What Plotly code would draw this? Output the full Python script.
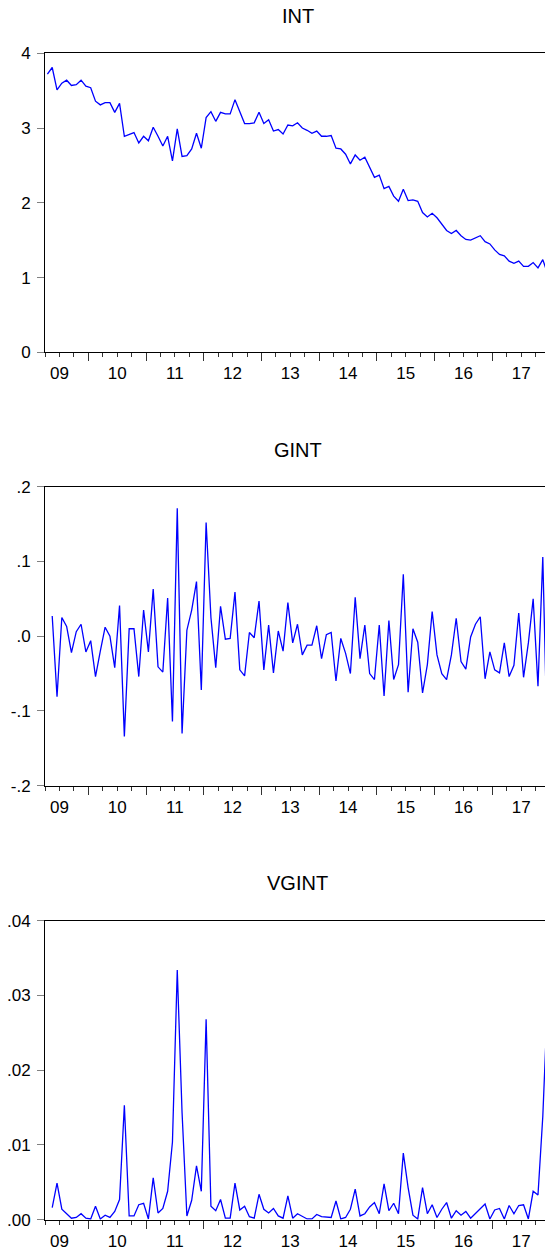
import pandas as pd
import plotly.graph_objects as go

# ---------------- data (monthly, INT from 2009M04) ----------------
START = "2009-04"
INT = [3.72, 3.81, 3.51, 3.60, 3.64, 3.57, 3.58, 3.64, 3.56, 3.54,
       3.36, 3.31, 3.34, 3.34, 3.21, 3.33, 2.89, 2.92, 2.94, 2.80,
       2.89, 2.83, 3.01, 2.89, 2.76, 2.89, 2.56, 2.99, 2.62, 2.63,
       2.72, 2.93, 2.73, 3.14, 3.22, 3.09, 3.21, 3.19, 3.19, 3.38,
       3.22, 3.06, 3.06, 3.07, 3.21, 3.06, 3.11, 2.96, 2.98, 2.92,
       3.04, 3.03, 3.07, 3.00, 2.97, 2.93, 2.96, 2.89, 2.89, 2.90,
       2.73, 2.72, 2.65, 2.52, 2.64, 2.57, 2.61, 2.48, 2.34, 2.37,
       2.19, 2.22, 2.09, 2.02, 2.18, 2.03, 2.04, 2.02, 1.87, 1.81,
       1.86, 1.80, 1.72, 1.63, 1.59, 1.63, 1.56, 1.51, 1.50, 1.53,
       1.56, 1.48, 1.45, 1.37, 1.31, 1.29, 1.22, 1.19, 1.22, 1.15,
       1.15, 1.20, 1.13, 1.24, 1.05]

# GINT and VGINT start one month later (2009M05)
GINT = [0.027, -0.081, 0.025, 0.013, -0.022, 0.006, 0.016, -0.021, -0.006, -0.054,
        -0.020, 0.012, 0.000, -0.042, 0.041, -0.134, 0.010, 0.010, -0.054, 0.035,
        -0.021, 0.063, -0.041, -0.048, 0.051, -0.114, 0.171, -0.130, 0.008, 0.035,
        0.073, -0.072, 0.152, 0.025, -0.042, 0.040, -0.004, -0.003, 0.059, -0.045,
        -0.053, 0.005, -0.002, 0.047, -0.045, 0.015, -0.049, 0.007, -0.020, 0.045,
        -0.009, 0.016, -0.025, -0.012, -0.012, 0.014, -0.030, 0.002, 0.005, -0.060,
        -0.003, -0.023, -0.050, 0.052, -0.030, 0.015, -0.050, -0.058, 0.015, -0.080,
        0.021, -0.058, -0.038, 0.083, -0.075, 0.010, -0.008, -0.076, -0.038, 0.033,
        -0.025, -0.050, -0.058, -0.025, 0.024, -0.034, -0.044, -0.001, 0.016, 0.026,
        -0.057, -0.021, -0.045, -0.049, -0.009, -0.054, -0.039, 0.031, -0.055, -0.009,
        0.050, -0.067, 0.106, -0.165]

VGINT = [0.0016, 0.0049, 0.0014, 0.0008, 0.0002, 0.0003, 0.0008, 0.0002, 0.0001, 0.0018,
         0.0001, 0.0006, 0.0003, 0.0011, 0.0027, 0.0153, 0.0005, 0.0005, 0.0020, 0.0022,
         0.0001, 0.0056, 0.0009, 0.0015, 0.0038, 0.0104, 0.0334, 0.0143, 0.0005, 0.0026,
         0.0072, 0.0038, 0.0268, 0.0018, 0.0012, 0.0027, 0.0002, 0.0002, 0.0049, 0.0013,
         0.0018, 0.0004, 0.0002, 0.0034, 0.0014, 0.0009, 0.0015, 0.0005, 0.0002, 0.0032,
         0.0002, 0.0008, 0.0004, 0.0001, 0.0001, 0.0007, 0.0004, 0.0003, 0.0003, 0.0025,
         0.0001, 0.0003, 0.0014, 0.0041, 0.0005, 0.0008, 0.0017, 0.0023, 0.0008, 0.0048,
         0.0012, 0.0022, 0.0008, 0.0089, 0.0043, 0.0006, 0.0001, 0.0043, 0.0008, 0.0020,
         0.0003, 0.0014, 0.0023, 0.0002, 0.0012, 0.0006, 0.0011, 0.0002, 0.0008, 0.0015,
         0.0021, 0.0001, 0.0013, 0.0015, 0.0001, 0.0019, 0.0008, 0.0019, 0.0020, 0.0001,
         0.0038, 0.0033, 0.0138, 0.0295]

TITLES = ["INT", "GINT", "VGINT"]
YEAR_LABELS = ["09", "10", "11", "12", "13", "14", "15", "16", "17"]
YTICKS = [
    ([0, 1, 2, 3, 4], ["0", "1", "2", "3", "4"], [0, 4]),
    ([-0.2, -0.1, 0.0, 0.1, 0.2], ["-.2", "-.1", ".0", ".1", ".2"], [-0.2, 0.2]),
    ([0.0, 0.01, 0.02, 0.03, 0.04], [".00", ".01", ".02", ".03", ".04"], [0.0, 0.04]),
]


def month_positions(start, n):
    per = pd.period_range(start, periods=n, freq="M")
    return [p.year + (p.month - 1) / 12 + 1 / 24 for p in per]


x_int = month_positions(START, len(INT))
x_g = month_positions("2009-05", len(GINT))
series = [(x_int, INT), (x_g, GINT), (x_g, VGINT)]

# ---------------- layout geometry ----------------
W, H = 545, 1251
L = 45
PX_PER_YEAR = 505 / 8.75
X0 = 2009.25
X1 = X0 + (W - L) / PX_PER_YEAR
panel_px = [(53.3, 352.3), (486.7, 785.7), (920.7, 1219.7)]
title_px = [16, 449.5, 883]

FONT = "Arial, Liberation Sans, sans-serif"
TICKSIZE = 17
fig = go.Figure()
layout = dict(
    width=W, height=H,
    margin=dict(l=L, r=0, t=0, b=0),
    paper_bgcolor="white", plot_bgcolor="white",
    showlegend=False,
    font=dict(family=FONT, size=TICKSIZE, color="black"),
)

years = list(range(2009, 2018))
mid_years = [y + 0.5 for y in years]
int_years = list(range(2010, 2018))

annotations = []
for k in range(3):
    n = k + 1
    xs, ys = series[k]
    top, bot = panel_px[k]
    dom = [1 - bot / H, 1 - top / H]
    xa = f"xaxis{n}" if n > 1 else "xaxis"
    ya = f"yaxis{n}" if n > 1 else "yaxis"
    fig.add_trace(go.Scatter(x=xs, y=ys, mode="lines",
                             line=dict(color="#0000FF", width=1.3),
                             xaxis=f"x{n}", yaxis=f"y{n}", hoverinfo="skip"))
    layout[xa] = dict(
        domain=[0, 1], range=[X0, X1], anchor=f"y{n}",
        tickmode="array", tickvals=int_years, ticktext=[""] * len(int_years),
        ticks="outside", ticklen=8, tickwidth=1, tickcolor="#333333",
        minor=dict(tickmode="linear", tick0=2009, dtick=0.25, ticks="outside",
                   ticklen=4, tickwidth=1, tickcolor="#333333"),
        showline=True, linecolor="black", linewidth=1, mirror=True,
        showgrid=False, zeroline=False, automargin=False, fixedrange=True,
    )
    # overlay axis carrying the year labels at mid-year
    m = n + 3
    layout[f"xaxis{m}"] = dict(
        overlaying=f"x{n}", anchor=f"y{n}", side="bottom", range=[X0, X1],
        tickmode="array", tickvals=mid_years, ticktext=YEAR_LABELS,
        ticks="", ticklabelstandoff=9,
        showline=False, showgrid=False, zeroline=False,
        tickfont=dict(size=TICKSIZE, family=FONT, color="black"),
        automargin=False, fixedrange=True,
    )
    fig.add_trace(go.Scatter(x=xs, y=ys, mode="lines", line=dict(width=0),
                             opacity=0, xaxis=f"x{m}", yaxis=f"y{n}",
                             hoverinfo="skip"))
    tv, tt, rng = YTICKS[k]
    layout[ya] = dict(
        domain=dom, range=rng, anchor=f"x{n}",
        tickmode="array", tickvals=tv, ticktext=tt,
        ticks="outside", ticklen=7, tickwidth=1, tickcolor="#808080",
        ticklabelstandoff=3,
        tickfont=dict(size=TICKSIZE, family=FONT, color="black"),
        showline=True, linecolor="black", linewidth=1, mirror=False,
        showgrid=False, zeroline=False, automargin=False, fixedrange=True,
    )
    annotations.append(dict(
        text=TITLES[k], xref="paper", yref="paper",
        x=(297.5 - L) / (W - L), y=1 - title_px[k] / H,
        xanchor="center", yanchor="middle", showarrow=False,
        font=dict(size=20, family=FONT, color="black"),
    ))

layout["annotations"] = annotations
fig.update_layout(**layout)
fig.write_html("out.html")
